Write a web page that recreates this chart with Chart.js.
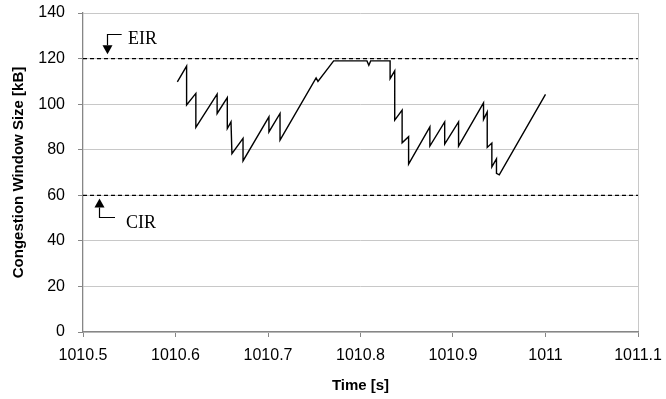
<!DOCTYPE html>
<html>
<head>
<meta charset="utf-8">
<script src="https://cdn.jsdelivr.net/npm/chart.js@4/dist/chart.umd.min.js"></script>
<style>
  html, body { margin: 0; padding: 0; background: #fff; }
  canvas { display: block; }
</style>
</head>
<body>
<canvas id="chart" width="666" height="399"></canvas>
<script>
// congestion window trace
const timeS = [
  1010.602, 1010.612, 1010.612, 1010.622, 1010.622, 1010.645, 1010.645, 1010.656,
  1010.656, 1010.660, 1010.661, 1010.673, 1010.673, 1010.701, 1010.701, 1010.713,
  1010.713, 1010.752, 1010.754, 1010.771, 1010.807, 1010.809, 1010.811, 1010.832,
  1010.832, 1010.837, 1010.837, 1010.845, 1010.845, 1010.852, 1010.852, 1010.875,
  1010.875, 1010.891, 1010.891, 1010.906, 1010.906, 1010.933, 1010.933, 1010.937,
  1010.937, 1010.942, 1010.942, 1010.947, 1010.947, 1010.950, 1011.000
];
const cwndKB = [
  109.8, 116.7, 99.6, 104.7, 89.8, 104.4, 95.9, 102.9,
  89.3, 92.2, 78.3, 85.0, 75.1, 94.4, 87.8, 95.9,
  84.2, 111.5, 110.0, 119.0, 119.0, 117.1, 119.0, 119.0,
  111.2, 114.6, 93.0, 97.4, 83.0, 85.7, 73.7, 90.0,
  81.6, 92.2, 82.5, 92.2, 81.6, 100.6, 93.3, 96.6,
  81.0, 82.9, 72.5, 76.0, 69.6, 69.0, 104.3
];
const rateNames = ['EIR', 'CIR'];
const rateKB = [120, 60];
const xRange = [1010.5, 1011.1];
const yTicks = [0, 20, 40, 60, 80, 100, 120, 140];

// labels with hook arrows, in data units
const rateNotes = [
  { text: 'EIR', hookX: 1010.5256, hookEndX: 1010.5418, hookY: 131.0, tipY: 121.9, labelX: 1010.5486, labelY: 128.5 },
  { text: 'CIR', hookX: 1010.5176, hookEndX: 1010.5346, hookY: 50.6, tipY: 58.6, labelX: 1010.5465, labelY: 47.9 }
];

const notesPlugin = {
  id: 'notes',
  afterDatasetsDraw(chart) {
    const c = chart.ctx, xs = chart.scales.x, ys = chart.scales.y;
    c.save();
    c.strokeStyle = '#000';
    c.fillStyle = '#000';
    c.lineWidth = 1.2;
    rateNotes.forEach(n => {
      const hx = Math.round(xs.getPixelForValue(n.hookX)) + 0.5;
      const ex = xs.getPixelForValue(n.hookEndX);
      const hy = Math.round(ys.getPixelForValue(n.hookY)) + 0.5;
      const ty = ys.getPixelForValue(n.tipY);
      const dir = ty > hy ? 1 : -1;
      const headBase = ty - dir * 9;
      c.beginPath();
      c.moveTo(ex, hy);
      c.lineTo(hx, hy);
      c.lineTo(hx, headBase);
      c.stroke();
      c.beginPath();
      c.moveTo(hx - 5, headBase);
      c.lineTo(hx + 5, headBase);
      c.lineTo(hx, ty);
      c.closePath();
      c.fill();
      c.font = '18px "Liberation Serif", "Times New Roman", serif';
      c.textAlign = 'left';
      c.textBaseline = 'middle';
      c.fillText(n.text, xs.getPixelForValue(n.labelX), ys.getPixelForValue(n.labelY));
    });
    c.restore();
  }
};

const traceData = timeS.map((t, i) => ({ x: t, y: cwndKB[i] }));
const rateSets = rateKB.map((v, i) => ({
  label: rateNames[i],
  data: [{ x: xRange[0], y: v }, { x: xRange[1], y: v }],
  borderColor: '#000',
  borderWidth: 1.3,
  borderDash: [4, 3],
  pointRadius: 0,
  showLine: true
}));

const axisGrey = '#868686';

new Chart(document.getElementById('chart'), {
  type: 'scatter',
  data: {
    datasets: [{
      label: 'Congestion window',
      data: traceData,
      borderColor: '#000',
      borderWidth: 1.4,
      pointRadius: 0,
      showLine: true,
      tension: 0
    }].concat(rateSets)
  },
  options: {
    responsive: false,
    animation: false,
    layout: { padding: { left: 6, right: 28, top: 13, bottom: 0 } },
    plugins: {
      legend: { display: false },
      tooltip: { enabled: false }
    },
    scales: {
      x: {
        type: 'linear',
        min: xRange[0],
        max: xRange[1],
        afterFit(scale) {
          scale.height = 67;
          scale.paddingLeft = 0;
          scale.paddingRight = 0;
        },
        afterBuildTicks(scale) {
          const t = [];
          for (let i = 0; i <= 6; i++) t.push({ value: xRange[0] + i * 0.1 });
          scale.ticks = t;
        },
        ticks: {
          autoSkip: false,
          maxRotation: 0,
          padding: 9,
          color: '#000',
          font: { family: '"Liberation Sans", Arial, sans-serif', size: 16 },
          callback: v => String(Number(v.toFixed(1)))
        },
        grid: {
          color: ctx => ctx.index === 6 ? '#c8c8c8' : 'rgba(0,0,0,0)',
          tickColor: axisGrey,
          tickLength: 5
        },
        border: { color: axisGrey, width: 1.3 },
        title: {
          display: true,
          text: 'Time [s]',
          color: '#000',
          font: { family: '"Liberation Sans", Arial, sans-serif', size: 15, weight: 'bold' }
        }
      },
      y: {
        min: 0,
        max: 140,
        afterFit(scale) {
          scale.width = 77;
          scale.paddingTop = 0;
          scale.paddingBottom = 0;
        },
        afterBuildTicks(scale) { scale.ticks = yTicks.map(v => ({ value: v })); },
        ticks: {
          padding: 13,
          color: '#000',
          font: { family: '"Liberation Sans", Arial, sans-serif', size: 16 }
        },
        grid: {
          color: '#c8c8c8',
          tickColor: axisGrey,
          tickLength: 5
        },
        border: { color: axisGrey, width: 1.3 },
        title: {
          display: true,
          text: 'Congestion Window Size [kB]',
          color: '#000',
          font: { family: '"Liberation Sans", Arial, sans-serif', size: 15, weight: 'bold' }
        }
      }
    }
  },
  plugins: [notesPlugin]
});
</script>
</body>
</html>
